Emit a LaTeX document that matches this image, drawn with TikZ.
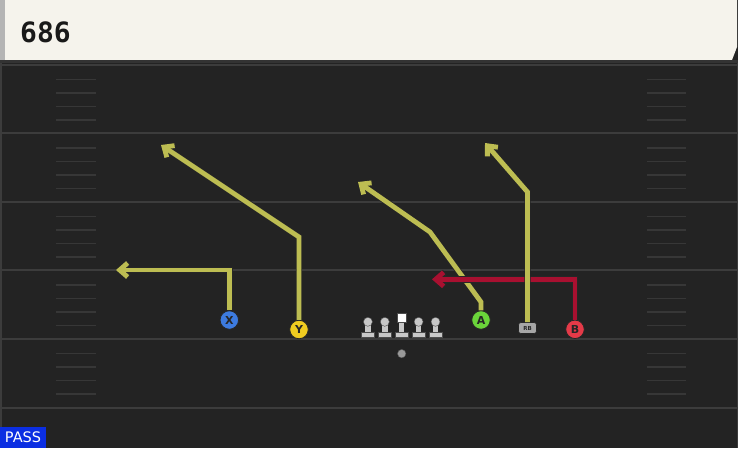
\documentclass[tikz,border=0pt]{standalone}
\usepackage{fontspec}
\setmainfont{DejaVu Sans}
\newfontfamily\playfont{DejaVu Sans Mono}
\usepackage{tikz}
\usetikzlibrary{positioning}
\usetikzlibrary{arrows.meta}
\definecolor{fieldgray}{HTML}{232323}
\definecolor{yardgray}{HTML}{3C3C3C}
\definecolor{hashgray}{HTML}{373737}
\definecolor{headerwhite}{HTML}{F5F3EC}
\definecolor{stripegray}{HTML}{B4B4B4}
\definecolor{linegray}{HTML}{C8C8C8}
\definecolor{routeyellow}{HTML}{BDBD52}
\definecolor{routered}{HTML}{A81030}
\definecolor{xblue}{HTML}{3D7BE0}
\definecolor{yyellow}{HTML}{F0CC20}
\definecolor{agreen}{HTML}{6AD43A}
\definecolor{bred}{HTML}{E43A48}
\definecolor{passblue}{HTML}{0B2EE2}

\begin{document}
\begin{tikzpicture}[x=1pt, y=-1pt,
playernode/.style={circle, draw=black!85, line width=0.8pt, minimum size=18.5pt, inner sep=0pt, font=\bfseries\fontsize{11}{11}\selectfont, text=black!85},
rbnode/.style={rectangle, rounded corners=2.5pt, fill=gray!70, draw=black!85, line width=0.6pt, minimum width=18pt, minimum height=11pt, inner sep=0pt, font=\bfseries\fontsize{5.5}{5.5}\selectfont, text=black!85},
linemannode/.style={rectangle, fill=linegray, minimum width=5.5pt, minimum height=10pt, inner sep=0pt},
ballnode/.style={circle, fill=gray!80, draw=black!70, line width=0.4pt, minimum size=8.5pt, inner sep=0pt},
titlenode/.style={anchor=base west, inner sep=0pt, text=black!90, font=\playfont\bfseries\fontsize{28}{28}\selectfont},
passnode/.style={anchor=south west, fill=passblue, text=white, minimum width=45.7pt, minimum height=21pt, inner sep=0pt, font=\fontsize{14.5}{14.5}\selectfont},
yardline/.style={draw=yardgray, line width=2pt},
hashmark/.style={draw=hashgray, line width=1.8pt},
routeshadow/.style={draw=black!85, line width=6.4pt, -{Straight Barb[length=8pt, width=14pt]}},
yellowroute/.style={draw=routeyellow, line width=4.8pt, -{Straight Barb[length=8pt, width=14pt]}},
redroute/.style={draw=routered, line width=4.8pt, -{Straight Barb[length=8pt, width=14pt]}},
]
\useasboundingbox (0,0) rectangle (738,448);

%Field
\fill[fieldgray] (0,60) rectangle (738,448);
\foreach \yl in {64.5,133,201.5,270,338.5,408}
  \draw[yardline] (0,\yl) -- (738,\yl);
\foreach \yl in {64.5,133,201.5,270,338.5}
  \foreach \off in {15,28.5,42,55.5} {
    \draw[hashmark] (56,\yl+\off) -- (96,\yl+\off);
    \draw[hashmark] (647,\yl+\off) -- (686,\yl+\off);
  }
\draw[yardgray, line width=1.5pt] (0.75,60) -- (0.75,448);
\draw[yardgray, line width=1.5pt] (737.25,60) -- (737.25,448);

%Header
\fill[fieldgray] (0,0) rectangle (738,60);
\fill[headerwhite] (0,0) -- (737,0) -- (737,47) -- (732,60) -- (0,60) -- cycle;
\fill[stripegray] (0,0) rectangle (5,60);
\fill[black!80] (0,60) rectangle (738,63);
\node[titlenode]	(playname)	at (20,42.7)	{686};
\node[passnode]		(playtype)	at (0,448)		{PASS};

%Nodes
\node[linemannode]	(centre)	at (401.7,327)			{};
\node[linemannode]	(lguard)	[left=11pt of centre]		{};
\node[linemannode]	(ltackle)	[left=11pt of lguard]		{};
\node[linemannode]	(rguard)	[right=11pt of centre]	{};
\node[linemannode]	(rtackle)	[right=11pt of rguard]	{};
\node[ballnode]		(ball)		[below=17pt of centre]	{};
\node[playernode, fill=xblue]	(xrec)	at (229.3,320)	{X};
\node[playernode, fill=yyellow]	(yrec)	at (299,329.5)	{Y};
\node[playernode, fill=agreen]	(arec)	at (481,320)	{A};
\node[rbnode]					(rb)	at (527.5,328)	{RB};
\node[playernode, fill=bred]	(brec)	at (575,329.3)	{B};

\foreach \n in {ltackle,lguard,rguard,rtackle}
  \filldraw[fill=linegray, draw=black!70, line width=0.4pt] (\n.north) circle[radius=4.5pt];
\filldraw[fill=white, draw=black!70, line width=0.4pt] ([xshift=-4.5pt]centre.north) rectangle ([xshift=4.5pt, yshift=9pt]centre.north);
\foreach \n in {ltackle,lguard,centre,rguard,rtackle}
  \filldraw[fill=linegray, draw=black!70, line width=0.4pt] ([xshift=-6.5pt]\n.south) rectangle ([xshift=6.5pt, yshift=-5.2pt]\n.south);

%Breaks
\coordinate (xbreak)	at (229.3,270);
\coordinate (xend)		at (116,270);
\coordinate (ybreak)	at (299,237);
\coordinate (yend)		at (161,145);
\coordinate (astem)		at (481,302);
\coordinate (abreak)	at (430,232);
\coordinate (aend)		at (358,182);
\coordinate (bbreak)	at (575,279.3);
\coordinate (bend)		at (432,279.3);
\coordinate (rbbreak)	at (527.5,192);
\coordinate (rbend)		at (485,143);

%Lines
\foreach \layer in {routeshadow,yellowroute}
  \draw[\layer] (xrec) -- (xbreak) -- (xend);
\foreach \layer in {routeshadow,yellowroute}
  \draw[\layer] (yrec) -- (ybreak) -- (yend);
\foreach \layer in {routeshadow,yellowroute}
  \draw[\layer] (arec) -- (astem) -- (abreak) -- (aend);
\foreach \layer in {routeshadow,redroute}
  \draw[\layer] (brec) -- (bbreak) -- (bend);
\foreach \layer in {routeshadow,yellowroute}
  \draw[\layer] (rb) -- (rbbreak) -- (rbend);
\end{tikzpicture}
\end{document}
